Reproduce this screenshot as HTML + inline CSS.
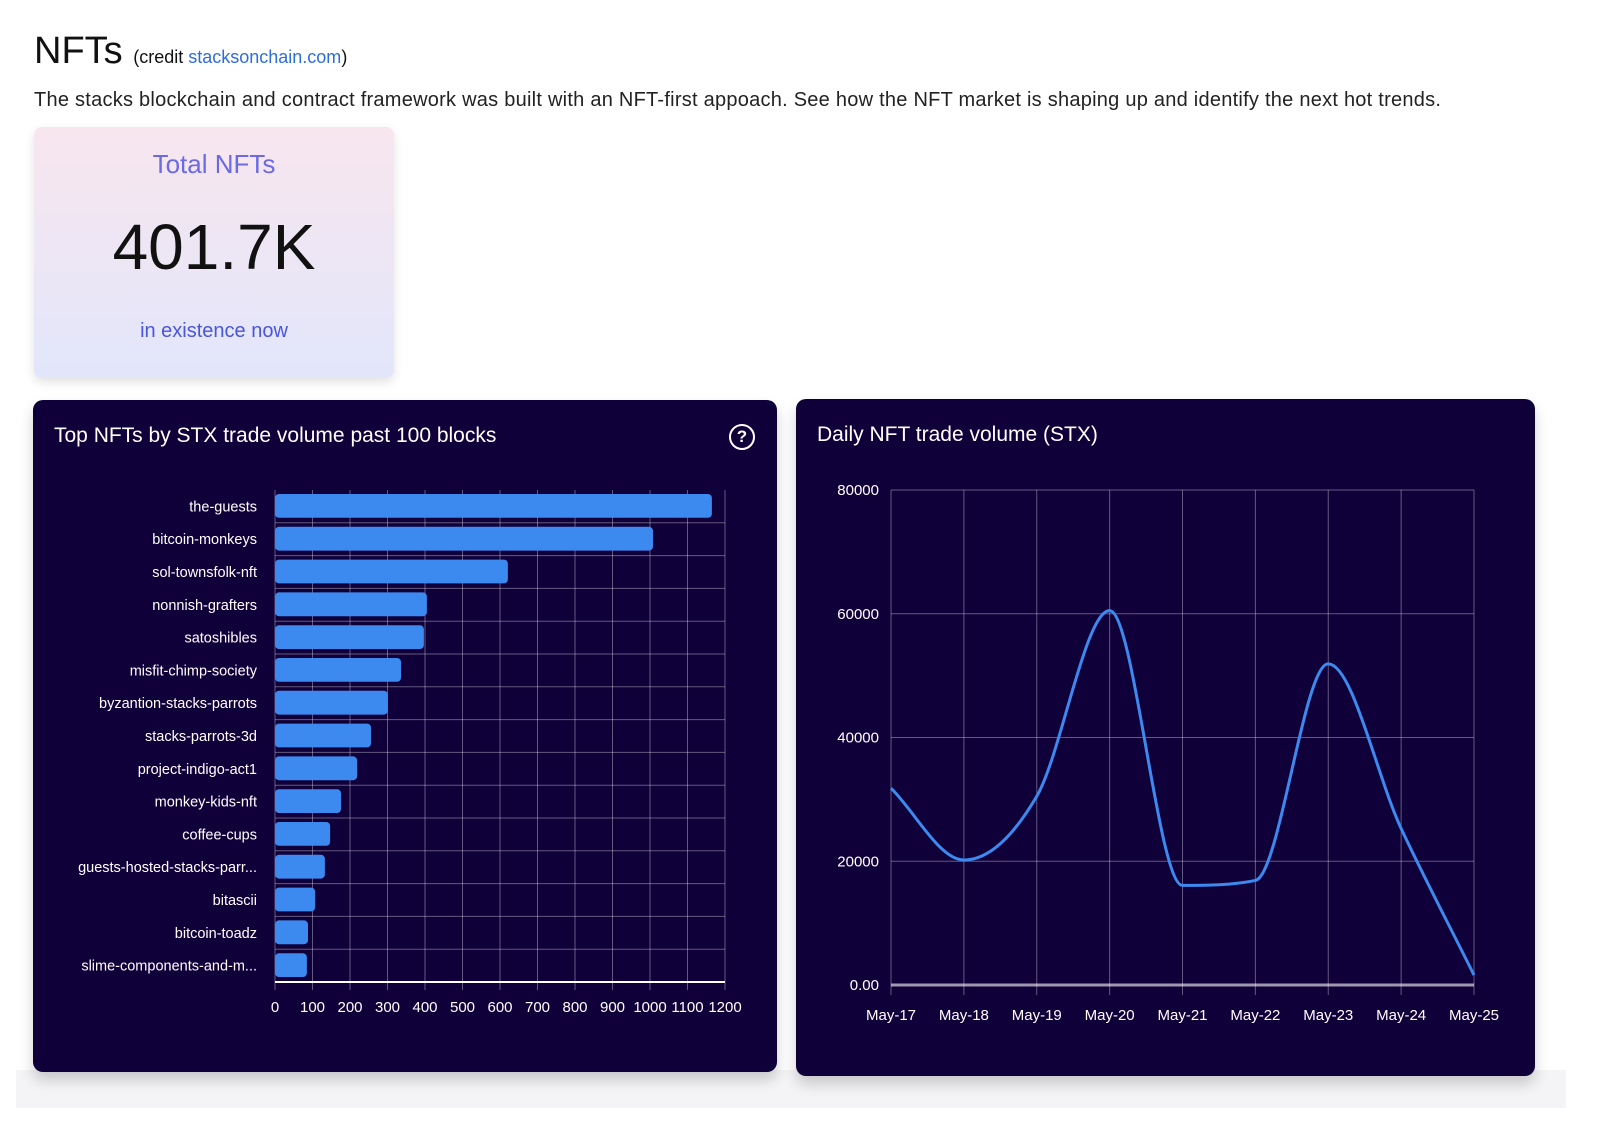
<!DOCTYPE html>
<html><head><meta charset="utf-8">
<style>
body{margin:0;width:1600px;height:1127px;background:#fff;font-family:"Liberation Sans",sans-serif;position:relative;overflow:hidden}
.abs{position:absolute}
h1{position:absolute;left:34px;top:30px;margin:0;font-size:38px;font-weight:400;color:#111}
.card{position:absolute;background:#10003a;border-radius:10px;box-shadow:0 8px 14px rgba(0,0,0,0.18)}
.ct{position:absolute;color:#fff;font-size:21px}
</style></head><body>
<div class="abs" style="left:16px;top:1070px;width:1550px;height:38px;background:#f4f4f6"></div>
<h1>NFTs <span style="font-size:18px">(credit <a style="color:#2d6ce0;text-decoration:none">stacksonchain.com</a>)</span></h1>
<div class="abs" style="left:34px;top:89px;font-size:20px;letter-spacing:0.25px;color:#222">The stacks blockchain and contract framework was built with an NFT-first appoach. See how the NFT market is shaping up and identify the next hot trends.</div>
<div class="abs" style="left:34px;top:127px;width:360px;height:251px;border-radius:8px;background:linear-gradient(#f8e6ee,#e2e6fb);box-shadow:0 4px 10px rgba(0,0,0,0.12);text-align:center">
<div style="margin-top:22px;font-size:26px;color:#6a6ae6">Total NFTs</div>
<div style="margin-top:30px;font-size:64px;color:#111">401.7K</div>
<div style="margin-top:36px;font-size:20px;color:#4a55dd">in existence now</div>
</div>
<div class="card" style="left:33px;top:400px;width:744px;height:672px"></div>
<div class="ct" style="left:54px;top:424px">Top NFTs by STX trade volume past 100 blocks</div>
<div class="abs" style="left:729px;top:424px;width:22px;height:22px;border:2px solid #fff;border-radius:50%;color:#fff;font-size:17px;font-weight:bold;text-align:center;line-height:22px">?</div>
<div class="card" style="left:796px;top:399px;width:739px;height:677px"></div>
<div class="ct" style="left:817px;top:423px">Daily NFT trade volume (STX)</div>
<svg id="svg" class="abs" style="left:0;top:0" width="1600" height="1127"></svg>
<script>
const barNames=["the-guests","bitcoin-monkeys","sol-townsfolk-nft","nonnish-grafters","satoshibles","misfit-chimp-society","byzantion-stacks-parrots","stacks-parrots-3d","project-indigo-act1","monkey-kids-nft","coffee-cups","guests-hosted-stacks-parr...","bitascii","bitcoin-toadz","slime-components-and-m..."];
const barValues=[1165,1008,621,405,397,336,301,256,219,176,147,133,107,88,85];
const barTicks=[0,100,200,300,400,500,600,700,800,900,1000,1100,1200];
const lineDates=["May-17","May-18","May-19","May-20","May-21","May-22","May-23","May-24","May-25"];
const lineValues=[31800,20200,30500,60500,16100,16900,51900,25300,1600];
const lineTicks=[0,20000,40000,60000,80000];
const lineTickLabels=["0.00","20000","40000","60000","80000"];

const svg=document.getElementById('svg');const NS="http://www.w3.org/2000/svg";
function mk(t,a,p){const e=document.createElementNS(NS,t);for(const k in a)e.setAttribute(k,a[k]);(p||svg).appendChild(e);return e;}
const grid="rgba(255,255,255,0.35)";
const bx0=275,bx1=725,by0=490,by1=982;
const bx=v=>bx0+v/1200*(bx1-bx0);
const rowH=(by1-by0)/barNames.length;
barTicks.forEach((t,i)=>{
 const l=mk('line',{x1:bx(t),x2:bx(t),y1:by0,y2:by1+8,stroke:grid});
 
 const tx=mk('text',{x:bx(t),y:1012,fill:'#fff','font-size':15,'text-anchor':'middle'});tx.textContent=t;
 
});
barNames.forEach((n,i)=>{
 const y=by0+i*rowH;
 const gl=mk('line',{x1:bx0,x2:bx1,y1:y+rowH,y2:y+rowH,stroke:grid});
 
 const r=mk('rect',{x:bx0,y:y+4,width:bx(barValues[i])-bx0,height:rowH-9,rx:4,fill:'#3c8af0'});
 
 const tx=mk('text',{x:257,y:y+rowH/2+5,fill:'#fff','font-size':14.5,'text-anchor':'end'});tx.textContent=n;
 
});
const ax=mk('line',{x1:bx0,x2:bx1,y1:by1,y2:by1,stroke:'#fff','stroke-width':2});

const lx0=891,lx1=1474,ly0=985,ly1=490;
const lx=i=>lx0+i*(lx1-lx0)/(lineDates.length-1);
const ly=v=>ly0-v/80000*(ly0-ly1);
lineTicks.forEach((t,i)=>{
 const l=mk('line',{x1:lx0,x2:lx1,y1:ly(t),y2:ly(t),stroke:t===0?'rgba(255,255,255,0.6)':grid,'stroke-width':t===0?3:1});
 
 const tx=mk('text',{x:879,y:ly(t)+5,fill:'#fff','font-size':15,'text-anchor':'end'});tx.textContent=lineTickLabels[i];
 
});
lineDates.forEach((d,i)=>{
 const l=mk('line',{x1:lx(i),x2:lx(i),y1:ly1,y2:ly0+10,stroke:grid});
 
 const tx=mk('text',{x:lx(i),y:1020,fill:'#fff','font-size':15,'text-anchor':'middle'});tx.textContent=d;
 
});
// monotone cubic interpolation
const px=lineValues.map((v,i)=>lx(i)),py=lineValues.map(v=>ly(v));
const n=px.length,dl=[],m=[];
for(let i=0;i<n-1;i++)dl.push((py[i+1]-py[i])/(px[i+1]-px[i]));
m[0]=dl[0];m[n-1]=dl[n-2];
for(let i=1;i<n-1;i++)m[i]=(dl[i-1]*dl[i]<=0)?0:(dl[i-1]+dl[i])/2;
for(let i=0;i<n-1;i++){
 if(dl[i]===0){m[i]=m[i+1]=0;continue;}
 const a=m[i]/dl[i],b=m[i+1]/dl[i],s=a*a+b*b;
 if(s>9){const t=3/Math.sqrt(s);m[i]=t*a*dl[i];m[i+1]=t*b*dl[i];}
}
let d='M'+px[0]+','+py[0];
for(let i=0;i<n-1;i++){const h=(px[i+1]-px[i])/3;
 d+=` C${px[i]+h},${py[i]+m[i]*h} ${px[i+1]-h},${py[i+1]-m[i+1]*h} ${px[i+1]},${py[i+1]}`;}
const path=mk('path',{d:d,fill:'none',stroke:'#3c8af0','stroke-width':3});

</script>
</body></html>
